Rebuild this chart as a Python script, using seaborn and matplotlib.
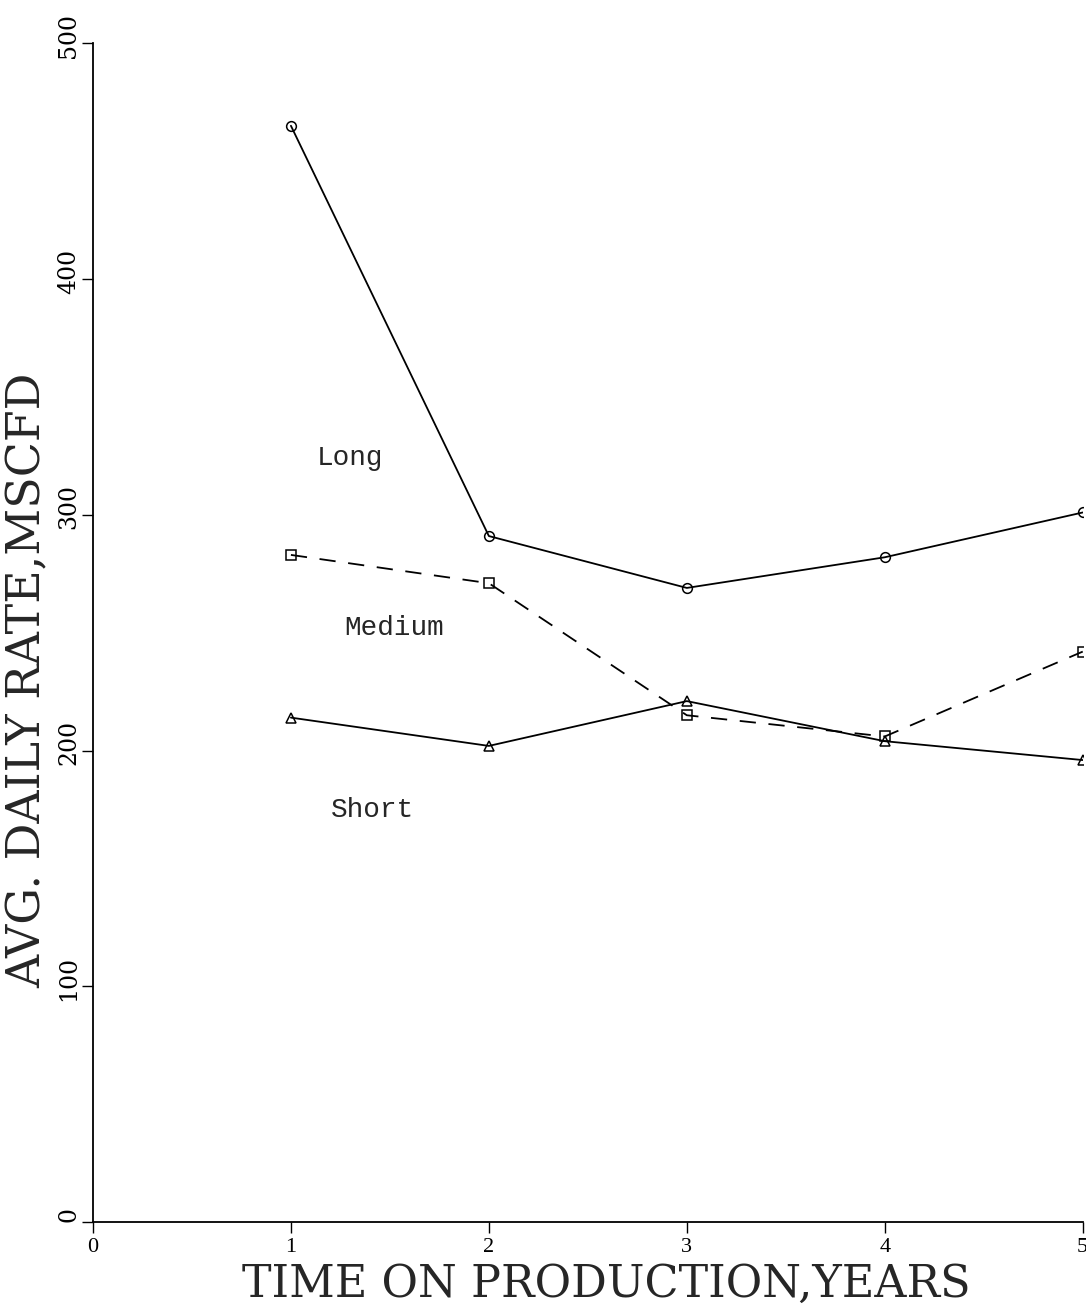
import matplotlib
matplotlib.use("Agg")
import matplotlib.pyplot as plt
import matplotlib.transforms as mtransforms
import seaborn as sns
import pandas as pd

years = [1, 2, 3, 4, 5]
long_rate = [465, 291, 269, 282, 301]
medium_rate = [283, 271, 215, 206, 242]
short_rate = [214, 202, 221, 204, 196]
series_names = ["Long", "Medium", "Short"]
x_ticks = [0, 1, 2, 3, 4, 5]
y_ticks = [0, 100, 200, 300, 400, 500]

sns.set_style("ticks")
plt.rcParams['font.family'] = ['Liberation Serif', 'DejaVu Serif']

df = pd.DataFrame({
    "year": years * 3,
    "rate": long_rate + medium_rate + short_rate,
    "group": [n for n in series_names for _ in years],
})

fig = plt.figure(figsize=(10.86, 13.10), dpi=100)
ax = fig.add_axes([0.0856, 0.067, 0.9114, 0.900])

sns.lineplot(data=df, x="year", y="rate", hue="group", style="group",
             palette={"Long": "black", "Medium": "black", "Short": "black"},
             dashes={"Long": "", "Medium": (9, 7), "Short": ""},
             markers={"Long": "o", "Medium": "s", "Short": "^"},
             markerfacecolor="none", markeredgecolor="black",
             markersize=7, markeredgewidth=1.1, linewidth=1.3,
             legend=False, ax=ax)

ax.set_xlim(0, 5)
ax.set_ylim(0, 500)
ax.set_xticks(x_ticks)
ax.set_yticks(y_ticks)
ax.set_xticklabels([str(t) for t in x_ticks], fontsize=16)
ax.set_yticklabels([str(t) for t in y_ticks], fontsize=17, rotation=90,
                   va="center", family=["DejaVu Serif"])
ax.tick_params(axis="both", direction="out", length=8, width=1.0, colors="black")
ax.tick_params(axis="y", pad=1)
shift = mtransforms.ScaledTranslation(0, 0.08, fig.dpi_scale_trans)
for lab in ax.get_yticklabels():
    lab.set_transform(lab.get_transform() + shift)
for s in ["top", "right"]:
    ax.spines[s].set_visible(False)
for s in ["left", "bottom"]:
    ax.spines[s].set_linewidth(1.3)
    ax.spines[s].set_color("black")

ax.set_xlabel("TIME ON PRODUCTION,YEARS", fontsize=32, family=["DejaVu Serif"])
ax.set_ylabel("AVG. DAILY RATE,MSCFD", fontsize=33, family=["DejaVu Serif"])
ax.xaxis.set_label_coords(0.519, -0.053)
ax.yaxis.set_label_coords(-0.066, 0.46)
ax.xaxis.label.set_va("center")
ax.yaxis.label.set_va("center")

lab_font = ["Liberation Mono", "DejaVu Sans Mono"]
ax.text(1.30, 324, "Long", fontsize=20, ha="center", va="center", family=lab_font)
ax.text(1.52, 252, "Medium", fontsize=20, ha="center", va="center", family=lab_font)
ax.text(1.41, 175, "Short", fontsize=20, ha="center", va="center", family=lab_font)

fig.savefig("out.png", dpi=100, facecolor="white")
